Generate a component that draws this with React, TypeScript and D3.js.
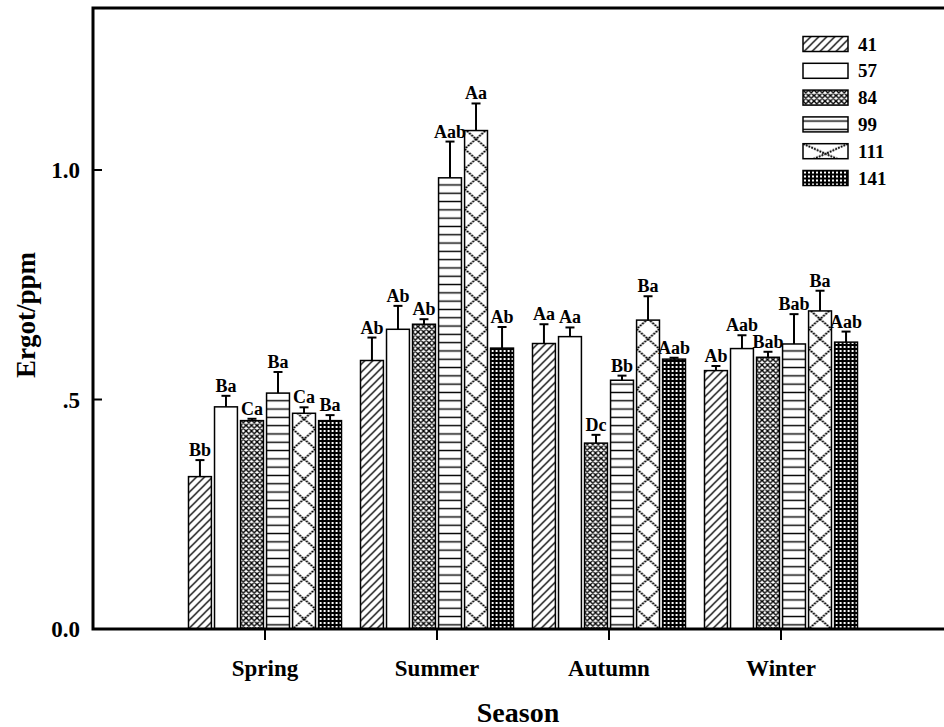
import { useEffect, useRef } from "react";
import * as d3 from "d3";

const seasons = ["Spring", "Summer", "Autumn", "Winter"];
const series = ["41", "57", "84", "99", "111", "141"];

// means per series, one value per season
const s41 = [0.332, 0.585, 0.622, 0.563];
const s57 = [0.484, 0.653, 0.637, 0.611];
const s84 = [0.454, 0.664, 0.405, 0.592];
const s99 = [0.514, 0.983, 0.542, 0.621];
const s111 = [0.47, 1.086, 0.673, 0.693];
const s141 = [0.454, 0.612, 0.588, 0.625];

// upper error (SE)
const e41 = [0.036, 0.05, 0.042, 0.01];
const e57 = [0.024, 0.051, 0.02, 0.029];
const e84 = [0.004, 0.011, 0.018, 0.012];
const e99 = [0.046, 0.079, 0.01, 0.065];
const e111 = [0.013, 0.059, 0.052, 0.044];
const e141 = [0.012, 0.046, 0.003, 0.023];

// significance letters
const l41 = ["Bb", "Ab", "Aa", "Ab"];
const l57 = ["Ba", "Ab", "Aa", "Aab"];
const l84 = ["Ca", "Ab", "Dc", "Bab"];
const l99 = ["Ba", "Aab", "Bb", "Bab"];
const l111 = ["Ca", "Aa", "Ba", "Ba"];
const l141 = ["Ba", "Ab", "Aab", "Aab"];

const yTicks = [0, 0.5, 1.0];
const yTickLabels = ["0.0", ".5", "1.0"];

const means = [s41, s57, s84, s99, s111, s141];
const errs = [e41, e57, e84, e99, e111, e141];
const letters = [l41, l57, l84, l99, l111, l141];

const FONT = "Liberation Serif, DejaVu Serif, serif";

// build a pattern anchored at (x0, y0) with width w for a given series
function makePattern(defs: any, id: string, kind: string, x0: number, y0: number, w: number) {
  let pw = 8, ph = 8;
  if (kind === "84") { pw = 5.5; ph = 5.5; }
  if (kind === "99") { pw = 10; ph = 8.3; }
  if (kind === "111") { pw = w; ph = 20; }
  if (kind === "141") { pw = 4; ph = 4; }
  const p = defs
    .append("pattern")
    .attr("id", id)
    .attr("patternUnits", "userSpaceOnUse")
    .attr("x", x0)
    .attr("y", y0)
    .attr("width", pw)
    .attr("height", ph);
  p.append("rect").attr("width", pw).attr("height", ph).attr("fill", kind === "141" ? "#000" : "#fff");
  if (kind === "41") {
    p.append("path")
      .attr("d", `M-2,2 L2,-2 M0,${ph} L${pw},0 M${pw - 2},${ph + 2} L${pw + 2},${ph - 2}`)
      .attr("stroke", "#000")
      .attr("stroke-width", 1.3);
  } else if (kind === "84") {
    p.append("path")
      .attr("d", `M0,0 L${pw},${ph} M${pw},0 L0,${ph} M-1,1 L1,-1 M${pw - 1},${ph + 1} L${pw + 1},${ph - 1} M-1,${ph - 1} L1,${ph + 1} M${pw - 1},-1 L${pw + 1},1`)
      .attr("stroke", "#000")
      .attr("stroke-width", 1.4);
  } else if (kind === "99") {
    p.append("line")
      .attr("x1", 0).attr("x2", pw)
      .attr("y1", ph / 2).attr("y2", ph / 2)
      .attr("stroke", "#000")
      .attr("stroke-width", 1.4);
  } else if (kind === "111") {
    p.append("path")
      .attr("d", `M0,0 L${pw},${ph} M${pw},0 L0,${ph}`)
      .attr("stroke", "#000")
      .attr("stroke-width", 1.9)
      .attr("stroke-dasharray", "2,1");
  } else if (kind === "141") {
    p.append("rect").attr("x", 1).attr("y", 1).attr("width", 2).attr("height", 2).attr("fill", "#fff");
  }
}

const Chart = () => {
  const ref = useRef<SVGSVGElement>(null);

  useEffect(() => {
    const svg = d3.select(ref.current);
    svg.selectAll("*").remove();
    const defs = svg.append("defs");

    const x = d3.scaleLinear().domain([0, 5]).range([93, 953]);
    const y = d3.scaleLinear().domain([0, 1.353]).range([629, 8]);
    const inner = d3.scaleBand().domain(series).range([-76.5, 76.5]).paddingInner(0.12);
    const bw = inner.bandwidth();

    const rows: any[] = [];
    seasons.forEach((s, si) => {
      series.forEach((k, ki) => {
        rows.push({
          season: s,
          key: k,
          value: means[ki][si],
          err: errs[ki][si],
          letter: letters[ki][si],
          x: x(si + 1) + (inner(k) as number),
          id: `p${k}_${si}`,
        });
      });
    });

    rows.forEach((d) => makePattern(defs, d.id, d.key, d.x, y(0), bw));

    const g = svg.append("g");

    g.selectAll(".bar")
      .data(rows)
      .enter()
      .append("rect")
      .attr("x", (d) => d.x)
      .attr("y", (d) => y(d.value))
      .attr("width", bw)
      .attr("height", (d) => y(0) - y(d.value))
      .attr("fill", (d) => `url(#${d.id})`)
      .attr("stroke", "#000")
      .attr("stroke-width", 1.5);

    // error bars (upper only)
    const eb = g.selectAll(".err").data(rows).enter().append("g");
    eb.append("line")
      .attr("x1", (d) => d.x + bw / 2)
      .attr("x2", (d) => d.x + bw / 2)
      .attr("y1", (d) => y(d.value))
      .attr("y2", (d) => y(d.value + d.err))
      .attr("stroke", "#000")
      .attr("stroke-width", 2);
    eb.append("line")
      .attr("x1", (d) => d.x + bw / 2 - 4.5)
      .attr("x2", (d) => d.x + bw / 2 + 4.5)
      .attr("y1", (d) => y(d.value + d.err))
      .attr("y2", (d) => y(d.value + d.err))
      .attr("stroke", "#000")
      .attr("stroke-width", 2);

    g.selectAll(".lbl")
      .data(rows)
      .enter()
      .append("text")
      .attr("x", (d) => d.x + bw / 2)
      .attr("y", (d) => y(d.value + d.err) - 4)
      .attr("text-anchor", "middle")
      .style("font-family", FONT)
      .style("font-weight", "bold")
      .style("font-size", "18px")
      .text((d) => d.letter);

    // frame
    svg.append("rect")
      .attr("x", 93)
      .attr("y", 8)
      .attr("width", 860)
      .attr("height", 621)
      .attr("fill", "none")
      .attr("stroke", "#000")
      .attr("stroke-width", 3);

    // y axis ticks (inward)
    const yAx = svg.append("g");
    yAx.selectAll("line")
      .data(yTicks)
      .enter()
      .append("line")
      .attr("x1", 93)
      .attr("x2", 102)
      .attr("y1", (d) => y(d))
      .attr("y2", (d) => y(d))
      .attr("stroke", "#000")
      .attr("stroke-width", 2);
    yAx.selectAll("text")
      .data(yTicks)
      .enter()
      .append("text")
      .attr("x", 80)
      .attr("y", (d) => y(d))
      .attr("dy", "0.35em")
      .attr("text-anchor", "end")
      .style("font-family", FONT)
      .style("font-weight", "bold")
      .style("font-size", "23px")
      .text((d, i) => yTickLabels[i]);

    // x axis ticks (outward)
    const xAx = svg.append("g");
    xAx.selectAll("line")
      .data(seasons)
      .enter()
      .append("line")
      .attr("x1", (d, i) => x(i + 1))
      .attr("x2", (d, i) => x(i + 1))
      .attr("y1", 629)
      .attr("y2", 640)
      .attr("stroke", "#000")
      .attr("stroke-width", 2);
    xAx.selectAll("text")
      .data(seasons)
      .enter()
      .append("text")
      .attr("x", (d, i) => x(i + 1))
      .attr("y", 668)
      .attr("dy", "0.35em")
      .attr("text-anchor", "middle")
      .style("font-family", FONT)
      .style("font-weight", "bold")
      .style("font-size", "23px")
      .text((d) => d);

    svg.append("text")
      .attr("x", 518)
      .attr("y", 712)
      .attr("dy", "0.35em")
      .attr("text-anchor", "middle")
      .style("font-family", FONT)
      .style("font-weight", "bold")
      .style("font-size", "28px")
      .text("Season");

    svg.append("text")
      .attr("transform", "translate(26,315) rotate(-90)")
      .attr("dy", "0.35em")
      .attr("text-anchor", "middle")
      .style("font-family", FONT)
      .style("font-weight", "bold")
      .style("font-size", "27px")
      .text("Ergot/ppm");

    // legend
    const ly = d3.scalePoint().domain(series).range([44, 178]);
    series.forEach((k) => makePattern(defs, `leg${k}`, k, 803, (ly(k) as number) - 7.5, 45));
    const leg = svg.append("g");
    leg.selectAll("rect")
      .data(series)
      .enter()
      .append("rect")
      .attr("x", 803)
      .attr("y", (d) => (ly(d) as number) - 7.5)
      .attr("width", 45)
      .attr("height", 15)
      .attr("fill", (d) => `url(#leg${d})`)
      .attr("stroke", "#000")
      .attr("stroke-width", 1.5);
    leg.selectAll("text")
      .data(series)
      .enter()
      .append("text")
      .attr("x", 858)
      .attr("y", (d) => ly(d) as number)
      .attr("dy", "0.35em")
      .style("font-family", FONT)
      .style("font-weight", "bold")
      .style("font-size", "19px")
      .text((d) => d);
  }, []);

  return (
    <svg
      ref={ref}
      width={944}
      height={727}
      style={{ position: "absolute", left: 0, top: 0, background: "#fff" }}
    ></svg>
  );
};

export default function App() {
  return <Chart />;
}
